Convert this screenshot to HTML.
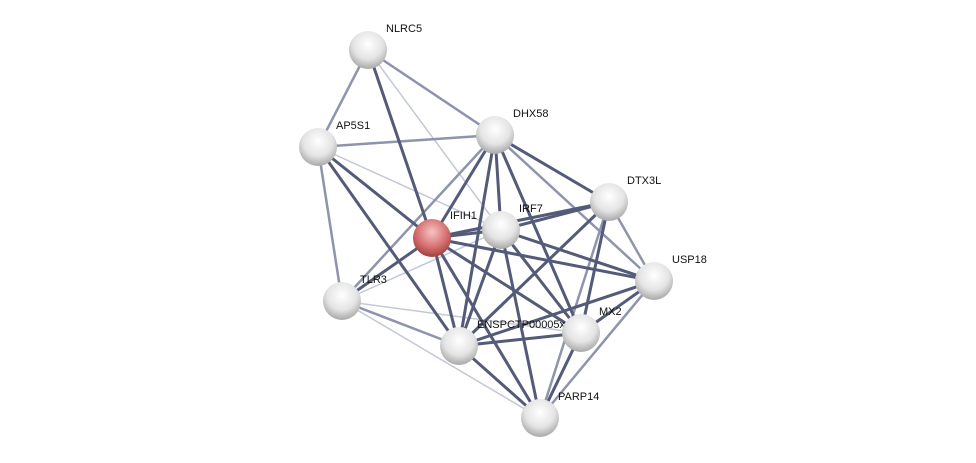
<!DOCTYPE html>
<html><head><meta charset="utf-8"><style>
html,body{margin:0;padding:0;background:#fff;}
svg{display:block}
text{font-family:"Liberation Sans",sans-serif;font-size:11px;fill:#111}
</style></head><body>
<svg width="976" height="463" viewBox="0 0 976 463">
<defs>
<radialGradient id="g" cx="0.5" cy="0.35" r="0.65">
<stop offset="0" stop-color="#ffffff"/><stop offset="0.6" stop-color="#e4e4e4"/><stop offset="1" stop-color="#a8a8a8"/></radialGradient>
<radialGradient id="r" cx="0.5" cy="0.35" r="0.65">
<stop offset="0" stop-color="#f4c4c4"/><stop offset="0.6" stop-color="#d87070"/><stop offset="1" stop-color="#a04040"/></radialGradient>
</defs>
<g stroke-linecap="round">
<g stroke="#c4c8d6" stroke-width="1.5">
<line x1="368" y1="50" x2="501" y2="230"/>
<line x1="342" y1="301" x2="501" y2="230"/>
<line x1="342" y1="301" x2="540" y2="418"/>
<line x1="318" y1="147" x2="501" y2="230"/>
<line x1="342" y1="301" x2="581" y2="333"/>
</g>
<g stroke="#8e94ab" stroke-width="2.5">
<line x1="368" y1="50" x2="318" y2="147"/>
<line x1="368" y1="50" x2="495" y2="135"/>
<line x1="318" y1="147" x2="495" y2="135"/>
<line x1="318" y1="147" x2="342" y2="301"/>
<line x1="609" y1="202" x2="654" y2="281"/>
<line x1="654" y1="281" x2="540" y2="418"/>
<line x1="342" y1="301" x2="459" y2="346"/>
<line x1="342" y1="301" x2="495" y2="135"/>
<line x1="495" y1="135" x2="654" y2="281"/>
<line x1="609" y1="202" x2="540" y2="418"/>
</g>
<g stroke="#545b78" stroke-width="3">
<line x1="432" y1="238" x2="495" y2="135"/>
<line x1="432" y1="238" x2="501" y2="230"/>
<line x1="432" y1="238" x2="342" y2="301"/>
<line x1="432" y1="238" x2="459" y2="346"/>
<line x1="432" y1="238" x2="581" y2="333"/>
<line x1="432" y1="238" x2="654" y2="281"/>
<line x1="432" y1="238" x2="609" y2="202"/>
<line x1="432" y1="238" x2="368" y2="50"/>
<line x1="432" y1="238" x2="318" y2="147"/>
<line x1="432" y1="238" x2="540" y2="418"/>
<line x1="501" y1="230" x2="495" y2="135"/>
<line x1="501" y1="230" x2="459" y2="346"/>
<line x1="501" y1="230" x2="581" y2="333"/>
<line x1="501" y1="230" x2="654" y2="281"/>
<line x1="501" y1="230" x2="609" y2="202"/>
<line x1="501" y1="230" x2="540" y2="418"/>
<line x1="495" y1="135" x2="459" y2="346"/>
<line x1="495" y1="135" x2="581" y2="333"/>
<line x1="495" y1="135" x2="609" y2="202"/>
<line x1="609" y1="202" x2="459" y2="346"/>
<line x1="609" y1="202" x2="581" y2="333"/>
<line x1="654" y1="281" x2="581" y2="333"/>
<line x1="654" y1="281" x2="459" y2="346"/>
<line x1="581" y1="333" x2="459" y2="346"/>
<line x1="581" y1="333" x2="540" y2="418"/>
<line x1="459" y1="346" x2="540" y2="418"/>
<line x1="318" y1="147" x2="459" y2="346"/>
</g>
</g>
<g>
<circle cx="368" cy="50" r="19" fill="url(#g)"/><text x="386" y="32">NLRC5</text>
<circle cx="318" cy="147" r="19" fill="url(#g)"/><text x="336" y="129">AP5S1</text>
<circle cx="495" cy="135" r="19" fill="url(#g)"/><text x="513" y="117">DHX58</text>
<circle cx="501" cy="230" r="19" fill="url(#g)"/><text x="519" y="212">IRF7</text>
<circle cx="609" cy="202" r="19" fill="url(#g)"/><text x="627" y="184">DTX3L</text>
<circle cx="654" cy="281" r="19" fill="url(#g)"/><text x="672" y="263">USP18</text>
<circle cx="342" cy="301" r="19" fill="url(#g)"/><text x="360" y="283">TLR3</text>
<circle cx="432" cy="238" r="19" fill="url(#r)"/><text x="450" y="219">IFIH1</text>
<circle cx="459" cy="346" r="19" fill="url(#g)"/><text x="477" y="328">ENSPCTP00005xxxx07</text>
<circle cx="581" cy="333" r="19" fill="url(#g)"/><text x="599" y="315">MX2</text>
<circle cx="540" cy="418" r="19" fill="url(#g)"/><text x="558" y="400">PARP14</text>
</g>
</svg>
</body></html>
